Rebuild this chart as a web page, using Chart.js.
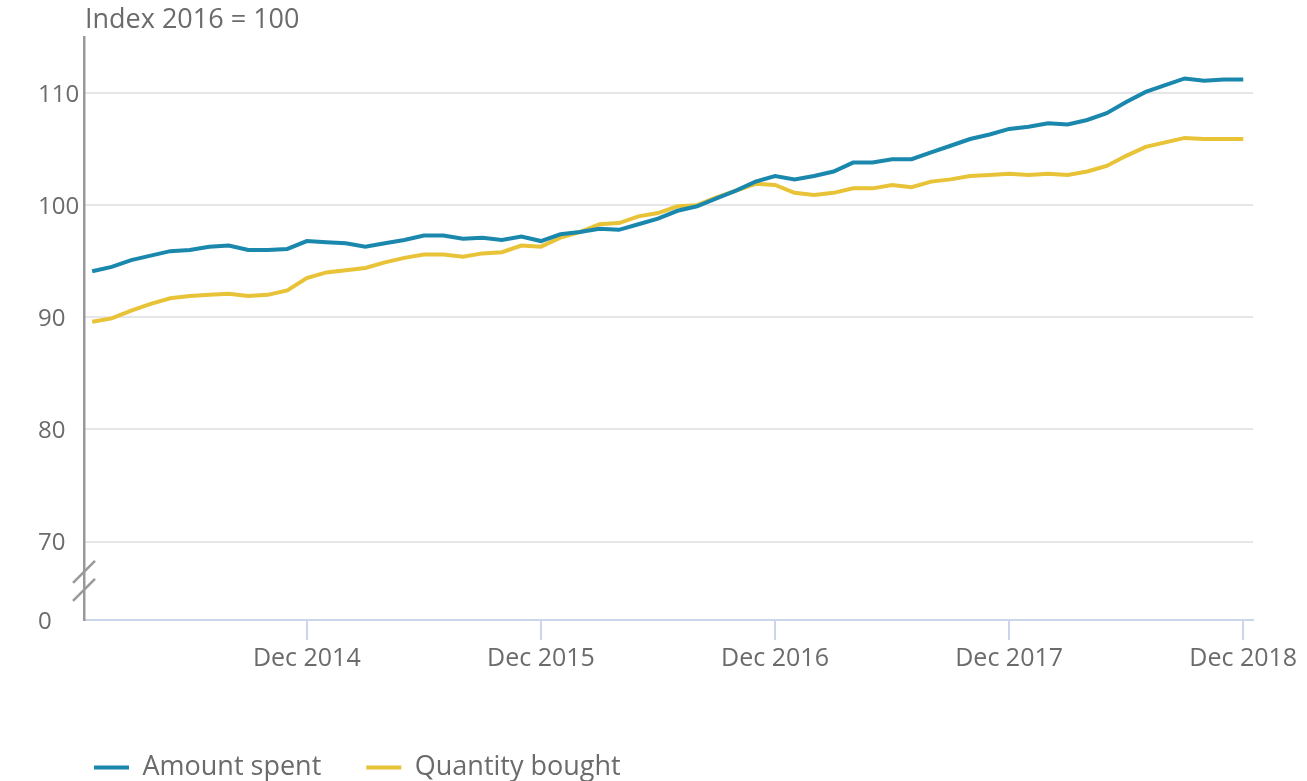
<!DOCTYPE html>
<html>
<head>
<meta charset="utf-8">
<script src="https://cdn.jsdelivr.net/npm/chart.js@4/dist/chart.umd.min.js"></script>
<style>
  html, body { margin: 0; padding: 0; background: #fff; }
  #wrap { width: 1307px; height: 781px; }
</style>
</head>
<body>
<div id="wrap"><canvas id="c"></canvas></div>
<script>
// Amount spent vs quantity bought, monthly Jan 2014 - Dec 2018, index 2016 = 100

const months = [];
for (let y = 2014; y <= 2018; y++) {
    ['Jan','Feb','Mar','Apr','May','Jun','Jul','Aug','Sep','Oct','Nov','Dec'].forEach(m => months.push(m + ' ' + y));
}

const amountSpent = [
    94.1, 94.5, 95.1, 95.5, 95.9, 96.0, 96.3, 96.4, 96.0, 96.0, 96.1, 96.8,
    96.7, 96.6, 96.3, 96.6, 96.9, 97.3, 97.3, 97.0, 97.1, 96.9, 97.2, 96.8,
    97.4, 97.6, 97.9, 97.8, 98.3, 98.8, 99.5, 99.9, 100.6, 101.3, 102.1, 102.6,
    102.3, 102.6, 103.0, 103.8, 103.8, 104.1, 104.1, 104.7, 105.3, 105.9, 106.3, 106.8,
    107.0, 107.3, 107.2, 107.6, 108.2, 109.2, 110.1, 110.7, 111.3, 111.1, 111.2, 111.2
];
const quantityBought = [
    89.6, 89.9, 90.6, 91.2, 91.7, 91.9, 92.0, 92.1, 91.9, 92.0, 92.4, 93.5,
    94.0, 94.2, 94.4, 94.9, 95.3, 95.6, 95.6, 95.4, 95.7, 95.8, 96.4, 96.3,
    97.1, 97.6, 98.3, 98.4, 99.0, 99.3, 99.9, 100.0, 100.7, 101.3, 101.9, 101.8,
    101.1, 100.9, 101.1, 101.5, 101.5, 101.8, 101.6, 102.1, 102.3, 102.6, 102.7, 102.8,
    102.7, 102.8, 102.7, 103.0, 103.5, 104.4, 105.2, 105.6, 106.0, 105.9, 105.9, 105.9
];

const yTicks = [63, 70, 80, 90, 100, 110];   // 63 stands in for the broken-axis "0"
const xTicks = [11, 23, 35, 47, 59];         // Decembers

const BLUE = '#1a87ad';
const YELLOW = '#e8c337';
const TEXT = '#6b6b6b';
const FONT = "'Open Sans', sans-serif";

const toPoints = arr => arr.map((v, i) => ({ x: i, y: v }));

// unit label, axis break marks, legend nudge
const extras = {
    id: 'extras',
    afterLayout(chart) {
        const lg = chart.legend;
        lg.left += 11; lg.right += 11;
        lg.top += 10; lg.bottom += 10;
    },
    afterDraw(chart) {
        const { ctx, chartArea, scales } = chart;
        ctx.save();
        ctx.fillStyle = TEXT;
        ctx.font = "27px " + FONT;
        ctx.textBaseline = 'middle';
        ctx.textAlign = 'left';
        ctx.fillText('Index 2016 = 100', chartArea.left + 1, 20);

        const x = chartArea.left;
        const yMid = (scales.y.getPixelForValue(70) + chartArea.bottom) / 2;
        ctx.strokeStyle = '#999';
        ctx.lineWidth = 2.5;
        [-9, 9].forEach(off => {
            ctx.beginPath();
            ctx.moveTo(x - 11, yMid + off + 11);
            ctx.lineTo(x + 11, yMid + off - 11);
            ctx.stroke();
        });
        ctx.restore();
    }
};

new Chart(document.getElementById('c'), {
    type: 'line',
    data: {
        datasets: [
            { label: 'Amount spent', data: toPoints(amountSpent), borderColor: BLUE, backgroundColor: BLUE, borderWidth: 4, pointRadius: 0, tension: 0 },
            { label: 'Quantity bought', data: toPoints(quantityBought), borderColor: YELLOW, backgroundColor: YELLOW, borderWidth: 4, pointRadius: 0, tension: 0 },
        ]
    },
    options: {
        responsive: true,
        maintainAspectRatio: false,
        animation: false,
        layout: { padding: { top: 37, right: 54, left: 38, bottom: 0 } },
        scales: {
            x: {
                type: 'linear',
                min: -0.42,
                max: 59.5,
                afterBuildTicks: s => { s.ticks = xTicks.map(v => ({ value: v })); },
                afterFit: s => { s.height = 79; },
                ticks: {
                    autoSkip: false,
                    maxRotation: 0,
                    padding: 4,
                    color: TEXT,
                    font: { family: FONT, size: 25 },
                    callback: v => months[v]
                },
                grid: { drawOnChartArea: false, drawTicks: true, tickLength: 20, color: '#ccd6eb', lineWidth: 2 },
                border: { display: true, color: '#ccd6eb', width: 2 }
            },
            y: {
                min: 63,
                max: 115,
                afterBuildTicks: s => { s.ticks = yTicks.map(v => ({ value: v })); },
                afterFit: s => { s.width = 46; },
                ticks: {
                    color: TEXT,
                    crossAlign: 'far',
                    padding: 8,
                    labelOffset: 2,
                    font: { family: FONT, size: 24 },
                    callback: v => v === 63 ? '0' : String(v)
                },
                grid: {
                    drawTicks: false,
                    lineWidth: 2,
                    color: c => c.tick && c.tick.value === 63 ? 'rgba(0,0,0,0)' : '#e6e6e6'
                },
                border: { display: true, color: '#999', width: 2.5 }
            }
        },
        plugins: {
            legend: {
                position: 'bottom',
                align: 'start',
                labels: {
                    usePointStyle: true,
                    pointStyle: 'line',
                    pointStyleWidth: 35,
                    boxWidth: 35,
                    boxHeight: 4,
                    padding: 45,
                    color: TEXT,
                    font: { family: FONT, size: 27 }
                }
            },
            tooltip: { enabled: false }
        }
    },
    plugins: [extras]
});
</script>
</body>
</html>
